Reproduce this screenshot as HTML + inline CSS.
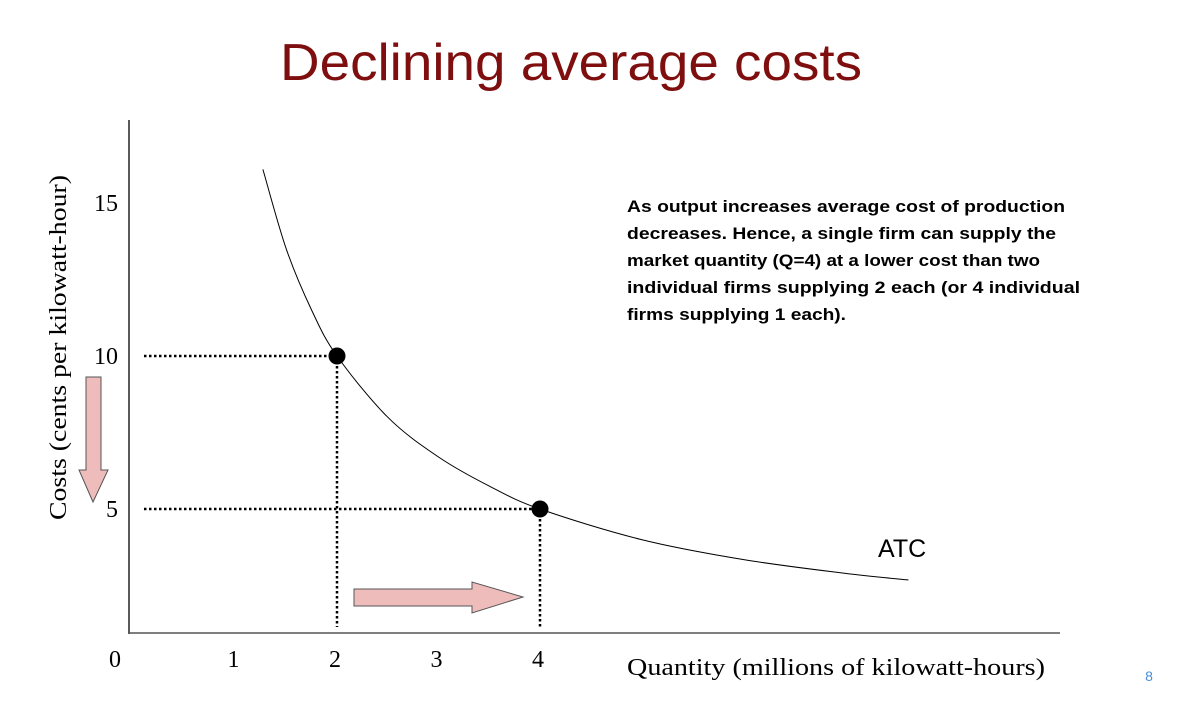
<!DOCTYPE html>
<html><head><meta charset="utf-8"><style>
body{margin:0;background:#fff;width:1182px;height:703px;overflow:hidden}
svg{display:block}
.t{font-family:"Liberation Serif",serif;font-size:24px;fill:#000}
.b{font-family:"Liberation Sans",sans-serif;font-weight:bold;font-size:17px;fill:#000}
</style></head><body>
<svg width="1182" height="703">
<text x="280" y="80" textLength="582" lengthAdjust="spacingAndGlyphs" font-family="Liberation Sans,sans-serif" font-size="52" fill="#7f0e0e">Declining average costs</text>
<line x1="129" y1="120" x2="129" y2="634" stroke="#000" stroke-width="1.3"/>
<line x1="129" y1="633" x2="1060" y2="633" stroke="#555" stroke-width="1.5"/>
<g id="ticks"></g>
<text class="t" transform="translate(66,175) rotate(-90)" text-anchor="end" textLength="345" lengthAdjust="spacingAndGlyphs" font-size="27">Costs (cents per kilowatt-hour)</text>
<text class="t" x="627" y="675" textLength="418" lengthAdjust="spacingAndGlyphs" font-size="27">Quantity (millions of kilowatt-hours)</text>
<g id="guides"></g>
<path id="curve" fill="none" stroke="#000" stroke-width="1"/>
<g id="pts"></g>
<text x="878" y="557" font-family="Liberation Sans,sans-serif" font-size="25">ATC</text>
<polygon points="86,377 101,377 101,470 108,470 93,502 79,470 86,470" fill="#efbcbc" stroke="#555" stroke-width="1"/>
<polygon points="354,589 472,589 472,582 523,597 472,613 472,606 354,606" fill="#efbcbc" stroke="#555" stroke-width="1"/>
<g>
<text class="b" x="627" y="212" textLength="438" lengthAdjust="spacingAndGlyphs">As output increases average cost of production</text>
<text class="b" x="627" y="239" textLength="429" lengthAdjust="spacingAndGlyphs">decreases. Hence, a single firm can supply the</text>
<text class="b" x="627" y="266" textLength="413" lengthAdjust="spacingAndGlyphs">market quantity (Q=4) at a lower cost than two</text>
<text class="b" x="627" y="293" textLength="453" lengthAdjust="spacingAndGlyphs">individual firms supplying 2 each (or 4 individual</text>
<text class="b" x="627" y="320" textLength="219" lengthAdjust="spacingAndGlyphs">firms supplying 1 each).</text>
</g>
<text x="1149" y="681" text-anchor="middle" font-family="Liberation Sans,sans-serif" font-size="14" fill="#4a8fd8">8</text>
</svg>
<script>
const xTicks=[0,1,2,3,4];
const yTicks=[5,10,15];
const curveQ=[1.27,1.5,1.75,2,2.5,3,3.5,4,5,6,7,7.63];
const curveC=[16.1,13.5,11.5,10,8.0,6.7,5.75,5,4.0,3.35,2.9,2.68];
const pointQ=[2,4];
const pointC=[10,5];
const X=q=>134+101.5*q;
const Y=c=>509-(c-5)*30.6;
const NS="http://www.w3.org/2000/svg";
function mk(tag,attrs,parent){const e=document.createElementNS(NS,tag);for(const k in attrs)e.setAttribute(k,attrs[k]);document.getElementById(parent).appendChild(e);return e;}
xTicks.forEach(q=>{const t=mk('text',{x:q===0?115:X(q)-2,y:667,'text-anchor':'middle',class:'t'},'ticks');t.textContent=q;

});
yTicks.forEach(c=>{const t=mk('text',{x:118,y:Y(c)+8,'text-anchor':'end',class:'t'},'ticks');t.textContent=c;

});
let d='';
(function(){const p=curveQ.map((q,i)=>[X(q),Y(curveC[i])]);let s='M'+p[0][0]+','+p[0][1];
for(let i=0;i<p.length-1;i++){const p0=p[i-1]||p[i],p1=p[i],p2=p[i+1],p3=p[i+2]||p2;
s+='C'+(p1[0]+(p2[0]-p0[0])/6)+','+(p1[1]+(p2[1]-p0[1])/6)+' '+(p2[0]-(p3[0]-p1[0])/6)+','+(p2[1]-(p3[1]-p1[1])/6)+' '+p2[0]+','+p2[1];}
d=s;})();
document.getElementById('curve').setAttribute('d',d);
pointQ.forEach((q,i)=>{
const h=mk('line',{x1:144,y1:Y(pointC[i]),x2:X(q),y2:Y(pointC[i]),stroke:'#000','stroke-width':2.5,'stroke-dasharray':'2.5 2.5'},'guides');


const v=mk('line',{x1:X(q),y1:Y(pointC[i]),x2:X(q),y2:627,stroke:'#000','stroke-width':2.5,'stroke-dasharray':'2.5 2.5'},'guides');


const c=mk('circle',{cx:X(q),cy:Y(pointC[i]),r:8.5,fill:'#000'},'pts');


});
</script>
</body></html>
